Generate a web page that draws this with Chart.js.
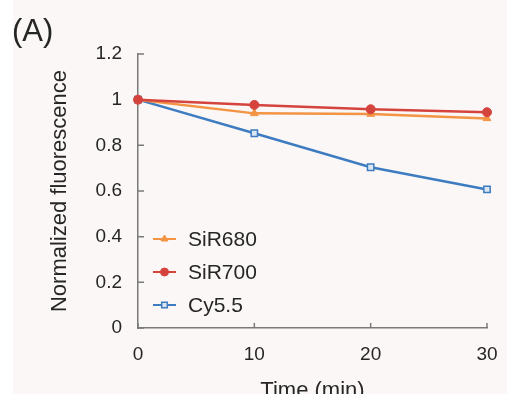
<!DOCTYPE html>
<html>
<head>
<meta charset="utf-8">
<script src="https://cdn.jsdelivr.net/npm/chart.js@4.4.1/dist/chart.umd.min.js"></script>
<style>
    html, body { margin: 0; padding: 0; overflow: hidden; background: #ffffff; }
    #fundo { position: absolute; left: 13px; top: 0; width: 494px; height: 394px; background: #fcf7f7; }
    #grafico { position: absolute; left: 0; top: 0; }
</style>
</head>
<body>
<div id="fundo"></div>
<canvas id="grafico" width="507" height="405"></canvas>
<script>
var tempos = [0, 10, 20, 30];
var nomesSeries = ['SiR680', 'SiR700', 'Cy5.5'];
var valoresSiR680 = [1, 0.940, 0.937, 0.918];
var valoresSiR700 = [1, 0.977, 0.958, 0.945];
var valoresCy55 = [1, 0.853, 0.704, 0.607];
var yTicks = [0, 0.2, 0.4, 0.6, 0.8, 1, 1.2];
var yTickLabels = ['0', '0.2', '0.4', '0.6', '0.8', '1', '1.2'];
var xTicks = [0, 10, 20, 30];
var xTickLabels = ['0', '10', '20', '30'];

var corEixo = '#7a7a7a';
var corTexto = '#262626';
var fonte = "'Liberation Sans', Arial, sans-serif";

function pontos(valores) {
    return tempos.map(function (t, i) {
        return { x: t, y: valores[i] };
    });
}

// marcas pequenas para dentro do grafico
var marcasDentro = {
    id: 'marcasDentro',
    beforeDatasetsDraw: function (chart) {
        var ctx = chart.ctx;
        var xs = chart.scales.x;
        var ys = chart.scales.y;
        ctx.save();
        ctx.strokeStyle = corEixo;
        ctx.lineWidth = 1.5;
        ctx.beginPath();
        xTicks.forEach(function (v) {
            var px = xs.getPixelForValue(v);
            ctx.moveTo(px, ys.bottom);
            ctx.lineTo(px, ys.bottom - 5);
        });
        yTicks.forEach(function (v) {
            var py = ys.getPixelForValue(v);
            ctx.moveTo(xs.left, py);
            ctx.lineTo(xs.left + 6, py);
        });
        ctx.stroke();
        ctx.restore();
    }
};

// titulo (A) no canto
var letraPainel = {
    id: 'letraPainel',
    afterDraw: function (chart) {
        var ctx = chart.ctx;
        ctx.save();
        ctx.fillStyle = corTexto;
        ctx.font = '31px ' + fonte;
        ctx.textAlign = 'left';
        ctx.textBaseline = 'alphabetic';
        ctx.fillText('(A)', 12, 41);
        ctx.restore();
    }
};

// legenda com linha + marcador, dentro da area
var legendaLinhas = {
    id: 'legendaLinhas',
    afterDraw: function (chart) {
        var ctx = chart.ctx;
        var linhasY = [239, 272, 305];
        ctx.save();
        chart.data.datasets.forEach(function (ds, i) {
            var y = linhasY[i];
            ctx.strokeStyle = ds.borderColor;
            ctx.lineWidth = 2;
            ctx.beginPath();
            ctx.moveTo(153, y);
            ctx.lineTo(176, y);
            ctx.stroke();
            ctx.fillStyle = ds.pointBackgroundColor;
            ctx.strokeStyle = ds.borderColor;
            ctx.lineWidth = ds.pointBorderWidth;
            Chart.helpers.drawPoint(ctx, {
                pointStyle: ds.pointStyle,
                radius: ds.pointRadius - 0.5,
                rotation: 0,
                borderWidth: ds.pointBorderWidth
            }, 164.5, y);
            ctx.fillStyle = corTexto;
            ctx.font = '21px ' + fonte;
            ctx.textAlign = 'left';
            ctx.textBaseline = 'middle';
            ctx.fillText(ds.label, 188, y + 1);
        });
        ctx.restore();
    }
};

var grafico = new Chart(document.getElementById('grafico'), {
    type: 'line',
    data: {
        datasets: [
            {
                label: nomesSeries[0], data: pontos(valoresSiR680), order: 1, clip: false,
                borderColor: '#f29443', backgroundColor: '#f29443',
                pointBackgroundColor: '#f29443', pointStyle: 'triangle',
                pointRadius: 4.5, pointBorderWidth: 1, borderWidth: 2.5
            },
            {
                label: nomesSeries[1], data: pontos(valoresSiR700), order: 0, clip: false,
                borderColor: '#d5433d', backgroundColor: '#d5433d',
                pointBackgroundColor: '#d5433d', pointStyle: 'circle',
                pointRadius: 4.5, pointBorderWidth: 1, borderWidth: 2.5
            },
            {
                label: nomesSeries[2], data: pontos(valoresCy55), order: 2, clip: false,
                borderColor: '#3d7cc0', backgroundColor: '#3d7cc0',
                pointBackgroundColor: '#dce6f3', pointStyle: 'rect',
                pointRadius: 4.5, pointBorderWidth: 1.5, borderWidth: 2.5
            }
        ]
    },
    options: {
        responsive: false,
        animation: false,
        layout: { padding: { left: 0, top: 54, right: 20, bottom: 0 } },
        plugins: {
            legend: { display: false },
            tooltip: { enabled: false }
        },
        scales: {
            x: {
                type: 'linear', min: 0, max: 30,
                afterFit: function (scale) {
                    scale.height = 77;
                    scale.paddingLeft = 0;
                    scale.paddingRight = 0;
                },
                afterBuildTicks: function (scale) {
                    scale.ticks = xTicks.map(function (v) { return { value: v }; });
                },
                grid: { drawOnChartArea: false, drawTicks: false },
                border: { color: corEixo, width: 1.5 },
                ticks: {
                    padding: 15, color: corTexto, maxRotation: 0,
                    font: { family: fonte, size: 19 },
                    callback: function (value) { return xTickLabels[xTicks.indexOf(value)]; }
                },
                title: {
                    display: true, text: 'Time (min)', color: corTexto,
                    font: { family: fonte, size: 22 },
                    padding: { top: 0, bottom: 1 }
                }
            },
            y: {
                min: 0, max: 1.2,
                afterFit: function (scale) {
                    scale.width = 138;
                    scale.paddingTop = 0;
                    scale.paddingBottom = 0;
                },
                afterBuildTicks: function (scale) {
                    scale.ticks = yTicks.map(function (v) { return { value: v }; });
                },
                grid: { drawOnChartArea: false, drawTicks: false },
                border: { color: corEixo, width: 1.5 },
                ticks: {
                    padding: 16, color: corTexto,
                    font: { family: fonte, size: 19 },
                    callback: function (value) { return yTickLabels[yTicks.indexOf(value)]; }
                },
                title: {
                    display: true, text: 'Normalized fluorescence', color: corTexto,
                    font: { family: fonte, size: 22 },
                    padding: { top: 47, bottom: 0 }
                }
            }
        }
    },
    plugins: [marcasDentro, letraPainel, legendaLinhas]
});
</script>
</body>
</html>
